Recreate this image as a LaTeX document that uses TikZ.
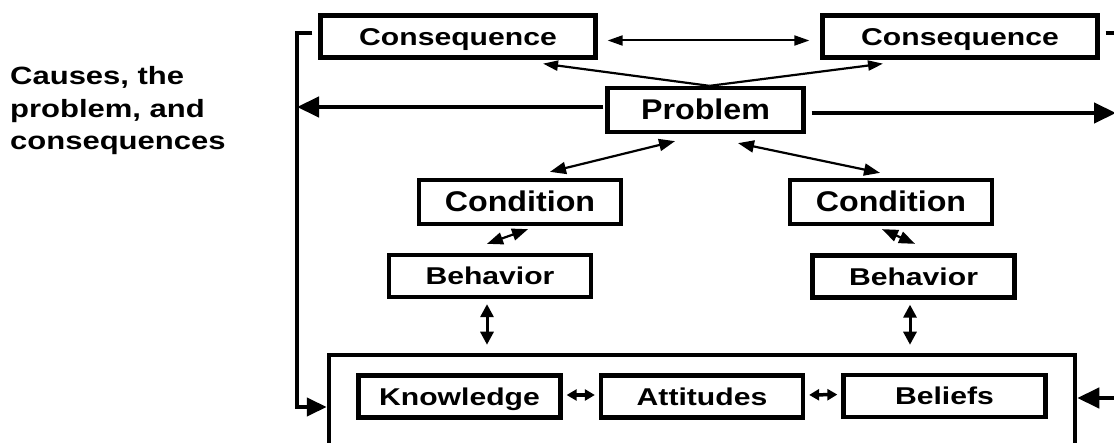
\documentclass[tikz,border=0pt]{standalone}
\usepackage{fontspec}
\setmainfont{Liberation Sans}
\newfontfamily\boxfont[FakeStretch=1.24]{Liberation Sans}
\newfontfamily\probfont[FakeStretch=1.13]{Liberation Sans}
\usetikzlibrary{arrows.meta}

\begin{document}
\begin{tikzpicture}
[x=1pt, y=-1pt,
box node/.style={draw, line width=4.3pt, fill=white, inner sep=0pt,
  minimum width=202pt, minimum height=42pt, text height=17.5pt, text depth=0pt,
  font=\boxfont\bfseries\fontsize{24.3pt}{28pt}\selectfont},
big node/.style={box node, minimum height=44pt, text height=20pt,
  font=\probfont\bfseries\fontsize{28.5pt}{32pt}\selectfont},
title text/.style={align=left, inner sep=0pt,
  font=\boxfont\bfseries\fontsize{25pt}{32.5pt}\selectfont},
thin link/.style={line width=2pt, {Triangle[length=15pt,width=10pt]}-{Triangle[length=15pt,width=10pt]}},
one link/.style={line width=2.2pt, -{Triangle[length=15pt,width=10pt]}},
mid link/.style={line width=2.2pt, {Triangle[length=16pt,width=12pt]}-{Triangle[length=16pt,width=12pt]}},
vert link/.style={line width=3pt, {Triangle[length=13pt,width=13pt]}-{Triangle[length=13pt,width=13pt]}},
short link/.style={line width=3.5pt, {Triangle[length=10pt,width=11pt]}-{Triangle[length=10pt,width=11pt]}},
frame line/.style={line width=4.3pt},
big link/.style={line width=4.3pt, -{Triangle[length=22pt,width=20pt]}}]

\useasboundingbox (0,0) rectangle (1114,443);
\clip (0,0) rectangle (1114,443);
\fill[white] (0,0) rectangle (1114,443);

\node[title text, anchor=base west] (title) at (10,150) {Causes, the\\problem, and\\consequences};

% outer box round the three causes
\node[draw, line width=4.5pt, inner sep=0pt, minimum width=746pt, minimum height=115pt] (kabbox) at (702,412.5) {};

\node[box node, minimum width=275pt] (consL) at (458,36.5) {Consequence};
\node[box node, minimum width=275pt] (consR) at (960,36.5) {Consequence};
\node[big node, minimum width=196pt] (prob) at (705.5,110) {Problem};
\node[big node] (condL) at (520,202) {Condition};
\node[big node] (condR) at (891,202) {Condition};
\node[box node] (behL) at (490,276) {Behavior};
\node[box node] (behR) at (913.5,276.5) {Behavior};
\node[box node] (know) at (459.5,396.5) {Knowledge};
\node[box node] (att) at (702,396.5) {Attitudes};
\node[box node] (bel) at (944.5,396) {Beliefs};

\coordinate (lcorner) at (297,407);
\coordinate (rtick) at (1120,33);
\coordinate (rmid) at (1116,113);
\coordinate (rlow) at (1125,398);

\draw[thin link, shorten <=10pt, shorten >=11pt] ([yshift=-4pt]consL.east) -- ([yshift=-4pt]consR.west);
\draw[one link] ([xshift=4pt]prob.north) -- ([xshift=85pt,yshift=-4pt]consL.south);
\draw[one link] ([xshift=4pt]prob.north) -- ([xshift=-77pt,yshift=-4pt]consR.south);

\draw[mid link] ([xshift=-30.5pt,yshift=-7pt]prob.south) -- ([xshift=30pt,yshift=6pt]condL.north);
\draw[mid link] ([xshift=32.5pt,yshift=-9pt]prob.south) -- ([xshift=-11pt,yshift=5pt]condR.north);
\draw[mid link] ([xshift=8pt,yshift=-3pt]condL.south) -- ([xshift=-3pt,yshift=9pt]behL.north);
\draw[mid link] ([xshift=-9pt,yshift=-3pt]condR.south) -- ([xshift=1.5pt,yshift=9.5pt]behR.north);

\draw[vert link, shorten >=8pt] ([xshift=-3pt,yshift=-5pt]behL.south) -- ([xshift=-3pt]behL.south |- kabbox.north);
\draw[vert link, shorten >=8pt] ([xshift=-3.5pt,yshift=-5pt]behR.south) -- ([xshift=-3.5pt]behR.south |- kabbox.north);

\draw[short link, shorten <=4pt, shorten >=4pt] ([yshift=1.5pt]know.east) -- ([yshift=1.5pt]att.west);
\draw[short link, shorten <=4pt, shorten >=4pt] ([yshift=1.5pt]att.east) -- ([yshift=1.5pt]bel.west);

% frame round the left and right sides
\draw[frame line, -{Triangle[length=20pt,width=18pt]}] ([xshift=-6pt,yshift=3.5pt]consL.west) -| (lcorner) -- ([yshift=5.5pt]kabbox.west);
\draw[big link] ([xshift=-2pt,yshift=3pt]prob.west) -- ([yshift=3pt]prob.west -| lcorner);
\draw[frame line] ([xshift=6pt,yshift=3.5pt]consR.east) -- (rtick);
\draw[big link] ([xshift=6pt,yshift=-3pt]prob.east) -- (rmid);
\draw[big link] (rlow) -- ([yshift=14.5pt]kabbox.east);
\end{tikzpicture}
\end{document}
